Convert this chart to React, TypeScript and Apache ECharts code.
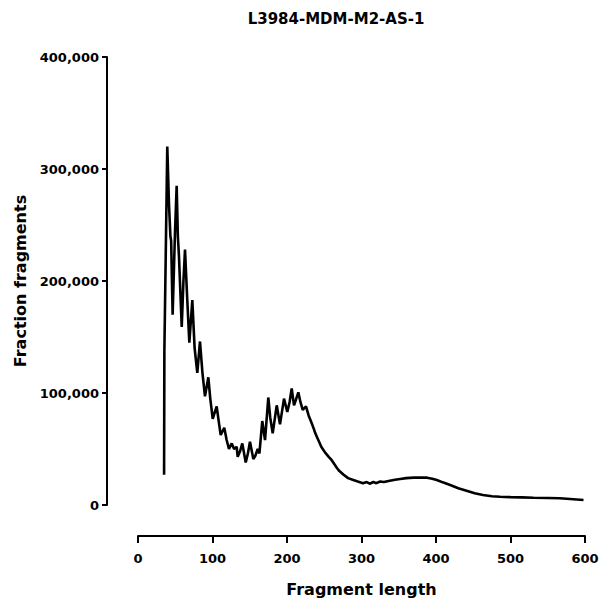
import React, { useEffect, useRef } from "react";
import * as echarts from "echarts";

const chartTitle = "L3984-MDM-M2-AS-1";
const xAxisName = "Fragment length";
const yAxisName = "Fraction fragments";

const fragmentLength: number[] = [
  35, 35.4, 39.3, 41.5, 43.5, 44.5, 46.5, 49.5, 51.9, 53.5, 55, 58.7, 61, 63.1,
  66, 68.9, 72.9, 76, 79.6, 83.2, 86.5, 89.9, 94.4, 97, 100.3, 105.6, 108.5,
  111, 115.8, 119, 122.1, 125.8, 129, 132.5, 133.8, 137, 140, 144.6, 147.5,
  150.3, 154.8, 157.5, 160.7, 163, 166.8, 170.5, 174.9, 177.5, 180.8, 186.2,
  190.6, 196, 200.4, 203.5, 206.3, 209.4, 212, 215.2, 218, 221.1, 225.5, 229,
  233.2, 236, 238, 242, 246, 251, 256, 260, 263, 267, 270, 276, 282, 289, 295,
  302, 307, 311, 316, 320, 325, 330, 338, 345, 352, 360, 370, 380, 388, 395,
  401, 410, 419, 430, 441, 452, 463, 475, 486, 500, 515, 531, 550, 566, 580,
  598,
];

const fraction: number[] = [
  27000, 137000, 320000, 270000, 240000, 236000, 170000, 240000, 285000,
  240000, 222000, 159000, 200000, 228000, 185000, 145000, 183000, 140000,
  118000, 146000, 118000, 97000, 114000, 95000, 77000, 88000, 74000, 62500,
  69000, 58000, 50000, 55000, 50000, 52000, 43000, 48000, 55000, 38000, 46000,
  56500, 41000, 44000, 50000, 46000, 75000, 58000, 96000, 78000, 64000, 89000,
  72000, 95000, 83000, 92000, 104000, 89000, 94000, 100600, 92000, 85000,
  88000, 80000, 73000, 68000, 64000, 58000, 52000, 47000, 43000, 40000, 37000,
  33000, 30500, 27000, 24000, 22300, 21000, 19500, 20500, 19000, 20500, 19500,
  21000, 20500, 21700, 22500, 23200, 24000, 24400, 24600, 24400, 23500, 22300,
  20000, 17900, 15000, 12800, 10500, 8900, 7800, 7400, 7000, 6800, 6500, 6300,
  6000, 5400, 4500,
];

const xTicks = { min: 0, max: 600, interval: 100 };
const yTicks = { min: 0, max: 400000, interval: 100000 };

const FONT = "DejaVu Sans";

export default function App() {
  const ref = useRef<HTMLDivElement>(null);
  useEffect(() => {
    if (!ref.current) return;
    const chart = echarts.init(ref.current, null, { renderer: "svg" });
    const data = fragmentLength.map((x, i) => [x, fraction[i]]);
    chart.setOption({
      animation: false,
      backgroundColor: "#ffffff",
      grid: {
        left: 138,
        right: 17,
        top: 57,
        bottom: 95,
        containLabel: false,
        outerBoundsMode: "none",
      },
      graphic: [
        {
          type: "text",
          x: 336,
          y: 19,
          style: {
            text: chartTitle,
            font: `bold 15px "${FONT}"`,
            fill: "#000",
            textAlign: "center",
            textVerticalAlign: "middle",
          },
        },
      ],
      xAxis: {
        type: "value",
        min: xTicks.min,
        max: xTicks.max,
        interval: xTicks.interval,
        position: "bottom",
        offset: 31,
        splitLine: { show: false },
        axisLine: { show: true, onZero: false, lineStyle: { color: "#000", width: 2 } },
        axisTick: { show: true, length: 7, lineStyle: { color: "#000", width: 2 } },
        axisLabel: {
          color: "#000",
          fontFamily: FONT,
          fontWeight: "bold",
          fontSize: 13,
          margin: 16,
        },
        name: xAxisName,
        nameLocation: "middle",
        nameGap: 45,
        nameTextStyle: { color: "#000", fontFamily: FONT, fontWeight: "bold", fontSize: 16 },
      },
      yAxis: {
        type: "value",
        min: yTicks.min,
        max: yTicks.max,
        interval: yTicks.interval,
        position: "left",
        offset: 31,
        splitLine: { show: false },
        axisLine: { show: true, onZero: false, lineStyle: { color: "#000", width: 2 } },
        axisTick: { show: true, length: 5, lineStyle: { color: "#000", width: 2 } },
        axisLabel: {
          color: "#000",
          fontFamily: FONT,
          fontWeight: "bold",
          fontSize: 13,
          margin: 8,
          formatter: (v: number) => v.toLocaleString("en-US"),
        },
        name: yAxisName,
        nameLocation: "middle",
        nameRotate: 90,
        nameGap: 78,
        nameTextStyle: { color: "#000", fontFamily: FONT, fontWeight: "bold", fontSize: 16 },
      },
      series: [
        {
          type: "line",
          data,
          showSymbol: false,
          symbol: "none",
          lineStyle: { color: "#000", width: 2.6 },
          clip: false,
        },
      ],
    });
    return () => chart.dispose();
  }, []);
  return (
    <div
      ref={ref}
      style={{ position: "absolute", left: 0, top: 0, width: 602, height: 600 }}
    />
  );
}
